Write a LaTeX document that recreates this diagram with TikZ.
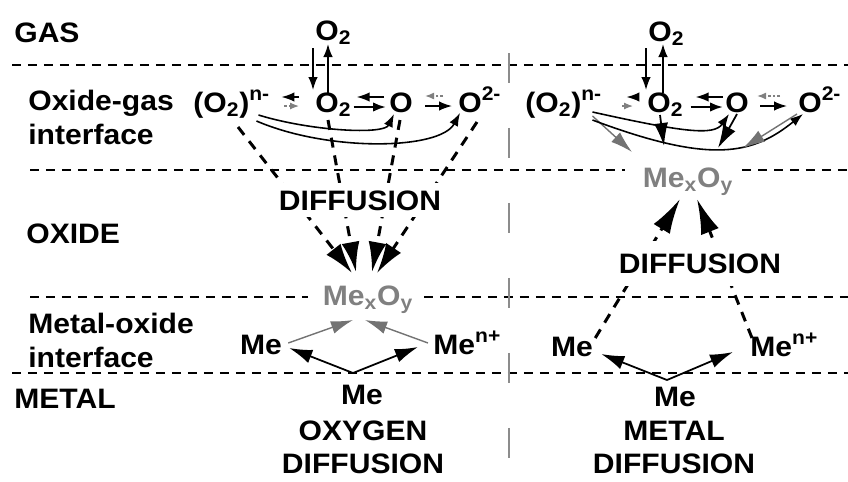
\documentclass[tikz,border=0pt]{standalone}
\usepackage{fontspec}
\setmainfont{Liberation Sans}[FakeStretch=1.07]
\usetikzlibrary{arrows.meta,calc}
\begin{document}
\begin{tikzpicture}[x=0.02cm,y=-0.02cm,
  every node/.style={font=\bfseries\fontsize{16}{19}\selectfont, inner sep=0pt},
  lbl/.style={anchor=base west},
  ctext/.style={anchor=base},
  oxtext/.style={anchor=base, text=black!50},
  coverbox/.style={anchor=base, fill=white, inner xsep=2pt, inner ysep=4pt},
  sepline/.style={line width=1.4pt, dash pattern=on 0.18cm off 0.14cm},
  divline/.style={black!45, line width=1.2pt, dash pattern=on 0.6cm off 0.9cm},
  arr/.style={line width=0.9pt, -{Latex[length=2.6mm,width=1.9mm]}},
  garr/.style={black!50, line width=0.7pt, dash pattern=on 1.5pt off 1.2pt, -{Latex[length=1.8mm,width=1.4mm]}},
  garrw/.style={black!55, line width=0.8pt, -{Latex[length=4.4mm,width=2.6mm]}},
  barrw/.style={line width=1pt, -{Latex[length=4.6mm,width=2.8mm]}},
  diffarr/.style={line width=1.7pt, dash pattern=on 0.2cm off 0.16cm, -{Latex[length=6mm,width=3.6mm]}}
]
\useasboundingbox (0,0) rectangle (848,481);
% zones
\node[lbl] (gas) at (14,42) {GAS};
\node[lbl] (ogi1) at (28,110) {Oxide-gas};
\node[lbl] (ogi2) at (28,144) {interface};
\node[lbl] (oxide) at (26,243) {OXIDE};
\node[lbl] (moi1) at (28,333) {Metal-oxide};
\node[lbl] (moi2) at (28,367) {interface};
\node[lbl] (metal) at (14,408) {METAL};
\draw[sepline] (12,65) -- (848,65);
\draw[sepline] (30,170) -- (625,170) (742,170) -- (848,170);
\draw[sepline] (30,297) -- (308,297) (424,297) -- (848,297);
\draw[sepline] (12,373) -- (848,373);
\draw[divline] (509,53) -- (509,465);

% oxygen diffusion
\node[lbl] (o2ga) at (315,40) {O\textsubscript{2}};
\node[lbl] (o2na) at (193,112) {(O\textsubscript{2})\textsuperscript{n-}};
\node[lbl] (o2a) at (315,112) {O\textsubscript{2}};
\node[lbl] (oa) at (389,112) {O};
\node[lbl] (o2ma) at (458,112) {O\textsuperscript{2-}};
\node[oxtext] (mxa) at (368,305) {Me\textsubscript{x}O\textsubscript{y}};
\node[ctext] (mea) at (261,354) {Me};
\node[lbl] (mena) at (433,354) {Me\textsuperscript{n+}};
\node[ctext] (meba) at (362,404) {Me};
\node[ctext] (tita1) at (363,440) {OXYGEN};
\node[ctext] (tita2) at (363,473) {DIFFUSION};

\draw[arr] ($(o2ga.base west)+(-2,8)$) -- ($(o2a.base west)+(-2,-22)$);
\draw[arr] ($(o2a.base west)+(13,-19)$) -- ($(o2ga.base west)+(13,4)$);
\draw[arr] ($(o2a.base west)+(-16,-15)$) -- ($(o2na.base east)+(11,-15)$);
\draw[garr] ($(o2na.base east)+(14,-6)$) -- ($(o2a.base west)+(-16,-6)$);
\draw[arr] ($(oa.base west)+(-5,-15)$) -- ($(o2a.base east)+(5,-15)$);
\draw[arr, line width=1.3pt] ($(o2a.base east)+(2,-5)$) -- ($(oa.base west)+(-3,-5)$);
\draw[garr] ($(o2ma.base west)+(-15,-16)$) -- ($(oa.base east)+(12,-16)$);
\draw[arr] ($(oa.base east)+(12,-6)$) -- ($(o2ma.base west)+(-6,-6)$);
\draw[arr] ($(o2na.base east)+(-12,3)$) .. controls +(52,16) and +(-10,21) .. ($(oa.base west)+(5,2)$);
\draw[arr] ($(o2na.base east)+(-14,9)$) .. controls +(72,31) and +(-20,37) .. ($(o2ma.base west)+(2,1)$);

\draw[diffarr] ($(o2na.base west)+(45,15)$) -- ($(mxa.base)+(-16,-32)$);
\draw[diffarr] ($(o2a.base west)+(13,8)$) -- ($(mxa.base)+(-12,-33)$);
\draw[diffarr] ($(oa.base west)+(11,8)$) -- ($(mxa.base)+(4,-33)$);
\draw[diffarr] ($(o2ma.base west)+(19,10)$) -- ($(mxa.base)+(9,-32)$);
\node[coverbox] (diffa) at (360,210) {DIFFUSION};

\draw[garrw] ($(mea.base east)+(6,-11)$) -- ($(mxa.base)+(-15,15)$);
\draw[garrw] ($(mena.base west)+(-5,-11)$) -- ($(mxa.base)+(-3,15)$);
\draw[barrw] ($(meba.base)+(-9,-31)$) -- ($(mea.base east)+(7,-6)$);
\draw[barrw] ($(meba.base)+(-9,-31)$) -- ($(mena.base west)+(-15,-7)$);

% metal diffusion
\node[lbl] (o2gb) at (648,41) {O\textsubscript{2}};
\node[lbl] (o2nb) at (525,112) {(O\textsubscript{2})\textsuperscript{n-}};
\node[lbl] (o2b) at (647,112) {O\textsubscript{2}};
\node[lbl] (ob) at (725,112) {O};
\node[lbl] (o2mb) at (798,112) {O\textsuperscript{2-}};
\node[oxtext] (mxb) at (688,187) {Me\textsubscript{x}O\textsubscript{y}};
\node[ctext] (meb) at (572,356) {Me};
\node[lbl] (menb) at (750,356) {Me\textsuperscript{n+}};
\node[ctext] (mebb) at (675,406) {Me};
\node[ctext] (titb1) at (674,440) {METAL};
\node[ctext] (titb2) at (674,473) {DIFFUSION};

\draw[arr] ($(o2gb.base west)+(-2,7)$) -- ($(o2b.base west)+(-1,-22)$);
\draw[arr] ($(o2b.base west)+(16,-19)$) -- ($(o2gb.base west)+(15,3)$);
\draw[arr] ($(o2b.base west)+(-14,-15)$) -- ($(o2nb.base east)+(24,-15)$);
\draw[garr] ($(o2nb.base east)+(20,-6)$) -- ($(o2b.base west)+(-14,-6)$);
\draw[arr] ($(ob.base west)+(-2,-15)$) -- ($(o2b.base east)+(12,-15)$);
\draw[arr, line width=1.3pt] ($(o2b.base east)+(7,-5)$) -- ($(ob.base west)+(-2,-5)$);
\draw[garr] ($(o2mb.base west)+(-18,-16)$) -- ($(ob.base east)+(8,-16)$);
\draw[arr] ($(ob.base east)+(11,-6)$) -- ($(o2mb.base west)+(-11,-6)$);
\draw[garrw] ($(o2nb.base east)+(-10,4)$) -- ($(mxb.base)+(-56,-35)$);
\draw[barrw] ($(o2b.base west)+(13,3)$) -- ($(mxb.base)+(-24,-41)$);
\draw[arr] ($(o2nb.base east)+(-10,0)$) .. controls +(90,20) and +(-15,22) .. ($(ob.base west)+(4,2)$);
\draw[barrw] ($(ob.base west)+(12,2)$) -- ($(mxb.base)+(30,-39)$);
\draw[arr] ($(o2nb.base east)+(-10,8)$) .. controls +(120,45) and +(-50,40) .. ($(o2mb.base west)+(5,2)$);
\draw[garrw] ($(o2mb.base west)+(-1,2)$) -- ($(mxb.base)+(55,-39)$);

\draw[diffarr, -{Latex[length=7mm,width=3.8mm]}] ($(meb.base east)+(2,-18)$) -- ($(mxb.base)+(-8,12)$);
\draw[diffarr, -{Latex[length=7mm,width=3.8mm]}] ($(menb.base west)+(2,-18)$) -- ($(mxb.base)+(9,12)$);
\node[coverbox, inner ysep=7pt] (diffb) at (700,273) {DIFFUSION};
\draw[barrw] ($(mebb.base)+(-8,-26)$) -- ($(meb.base east)+(8,-2)$);
\draw[barrw] ($(mebb.base)+(-8,-26)$) -- ($(menb.base west)+(-17,-4)$);
\end{tikzpicture}
\end{document}
